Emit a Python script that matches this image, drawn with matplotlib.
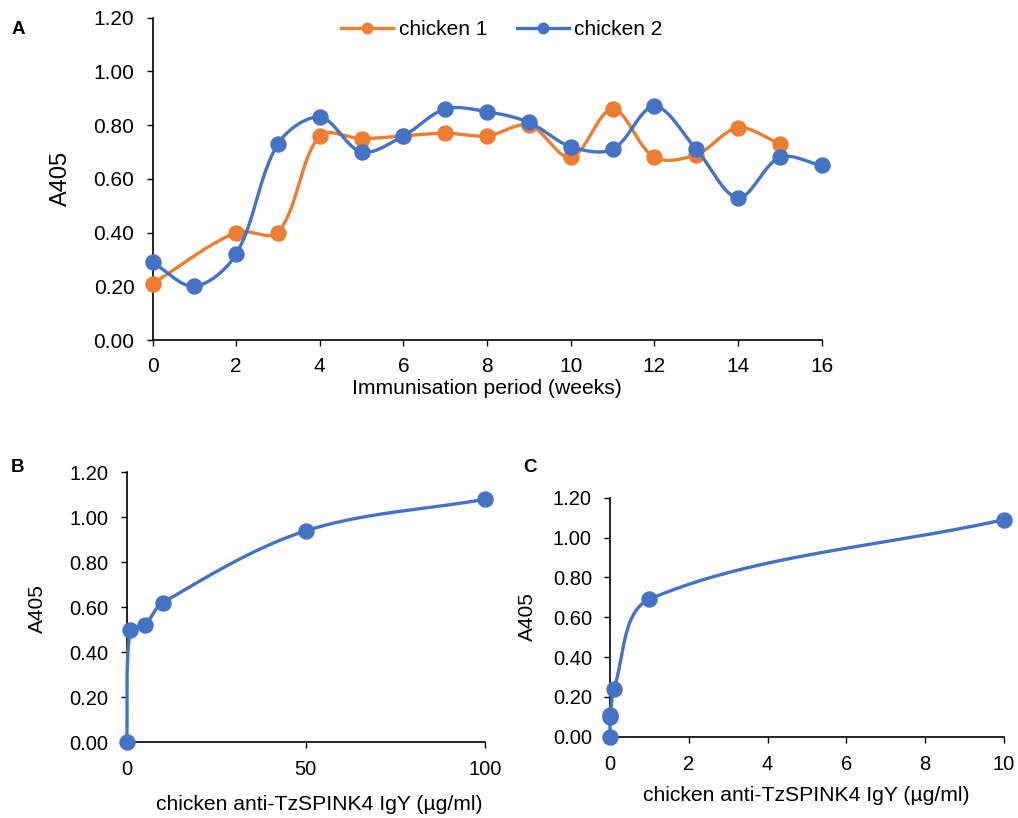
import numpy as np
import matplotlib
matplotlib.use("Agg")
import matplotlib.pyplot as plt
from matplotlib.lines import Line2D

plt.rcParams['font.family'] = ['Liberation Sans', 'DejaVu Sans']

# ---------------- data ----------------
weeks_c1 = [0, 2, 3, 4, 5, 6, 7, 8, 9, 10, 11, 12, 13, 14, 15]
a405_c1 = [0.21, 0.40, 0.40, 0.76, 0.75, 0.76, 0.77, 0.76, 0.80, 0.68, 0.86, 0.68, 0.69, 0.79, 0.73]
weeks_c2 = [0, 1, 2, 3, 4, 5, 6, 7, 8, 9, 10, 11, 12, 13, 14, 15, 16]
a405_c2 = [0.29, 0.20, 0.32, 0.73, 0.83, 0.70, 0.76, 0.86, 0.85, 0.81, 0.72, 0.71, 0.87, 0.71, 0.53, 0.68, 0.65]
series_labels = ["chicken 1", "chicken 2"]

conc_b = [0, 1, 5, 10, 50, 100]
a405_b = [0.00, 0.50, 0.52, 0.62, 0.94, 1.08]

conc_c = [0, 0.001, 0.01, 0.1, 1, 10]
a405_c = [0.00, 0.10, 0.11, 0.24, 0.69, 1.09]

y_ticks = [0.0, 0.2, 0.4, 0.6, 0.8, 1.0, 1.2]
xticks_a = [0, 2, 4, 6, 8, 10, 12, 14, 16]
xticks_b = [0, 50, 100]
xticks_c = [0, 2, 4, 6, 8, 10]

ORANGE = '#ED7D31'
BLUE = '#4472C4'

W, H = 1018, 818
fig = plt.figure(figsize=(W / 100, H / 100), dpi=100)


def ax_at(l, t, r, b):
    return fig.add_axes([l / W, 1 - b / H, (r - l) / W, (b - t) / H])


def smooth(ax, x, y, n=50):
    pts = ax.transData.transform(np.column_stack([x, y]))
    P = np.vstack([pts[0], pts, pts[-1]])
    d = np.linalg.norm(np.diff(P, axis=0), axis=1)  # chord lengths
    out = []
    t = np.linspace(0, 1, n)[:, None]
    for i in range(1, len(P) - 2):
        p0, p1, p2, p3 = P[i - 1], P[i], P[i + 1], P[i + 2]
        dprev, dcur, dnext = d[i - 1], d[i], d[i + 1]
        w1 = dcur / (dprev + dcur) / 3 if dprev + dcur > 0 else 0
        w2 = dcur / (dcur + dnext) / 3 if dcur + dnext > 0 else 0
        c1 = p1 + (p2 - p0) * w1
        c2 = p2 - (p3 - p1) * w2
        seg = (1 - t) ** 3 * p1 + 3 * (1 - t) ** 2 * t * c1 + 3 * (1 - t) * t ** 2 * c2 + t ** 3 * p2
        out.append(seg if i == 1 else seg[1:])
    dd = ax.transData.inverted().transform(np.vstack(out))
    return dd[:, 0], dd[:, 1]


def style(ax, xticks, xlim, fs, xpad=9):
    ax.set_xlim(*xlim)
    ax.set_ylim(0, 1.2)
    ax.set_yticks(y_ticks)
    ax.set_yticklabels([f"{v:.2f}" for v in y_ticks])
    ax.set_xticks(xticks)
    for s in ['top', 'right']:
        ax.spines[s].set_visible(False)
    for s in ['left', 'bottom']:
        ax.spines[s].set_linewidth(1.2)
        ax.spines[s].set_color('black')
    ax.tick_params(axis='both', direction='out', length=4, width=1.0, labelsize=fs, colors='black')
    ax.tick_params(axis='y', pad=9)
    ax.tick_params(axis='x', pad=xpad)
    ax.patch.set_alpha(0)


def plot_series(ax, x, y, color, z):
    sx, sy = smooth(ax, x, y)
    ax.plot(sx, sy, color=color, lw=2.4, zorder=z, solid_capstyle='round', clip_on=False)
    ax.plot(x, y, 'o', color=color, ms=10.8, zorder=z + 0.5, clip_on=False)


# ---------------- panel A ----------------
axA = ax_at(152.5, 17.7, 821.7, 340)
style(axA, xticks_a, (0, 16), 15, xpad=8)
plot_series(axA, weeks_c1, a405_c1, ORANGE, 3)
plot_series(axA, weeks_c2, a405_c2, BLUE, 4)
axA.set_ylabel("A405", fontsize=17)
axA.yaxis.set_label_coords(-0.120, 0.5)
axA.set_xlabel("Immunisation period (weeks)", fontsize=15.2, va='center')
axA.xaxis.set_label_coords(0.5, -0.150)

handles = [Line2D([], [], color=ORANGE, lw=2.4, marker='o', ms=7.5),
           Line2D([], [], color=BLUE, lw=2.4, marker='o', ms=7.5)]
fig.legend(handles, series_labels, loc='center', ncol=2, frameon=False,
           bbox_to_anchor=(502 / W, 1 - 29.5 / H), fontsize=15,
           handlelength=2.5, handletextpad=0.25, columnspacing=1.45)

# ---------------- panel B ----------------
axB = ax_at(126.7, 472.3, 485, 742.3)
style(axB, xticks_b, (0, 100), 14.5)
plot_series(axB, conc_b, a405_b, BLUE, 4)
axB.set_ylabel("A405", fontsize=15)
axB.yaxis.set_label_coords(-0.223, 0.494)
axB.set_xlabel("chicken anti-TzSPINK4 IgY (µg/ml)", fontsize=15.2, va='center')
axB.xaxis.set_label_coords(0.537, -0.232)

# ---------------- panel C ----------------
axC = ax_at(610, 497.7, 1004, 736.7)
style(axC, xticks_c, (0, 10), 14.5)
plot_series(axC, conc_c, a405_c, BLUE, 4)
axC.set_ylabel("A405", fontsize=15)
axC.yaxis.set_label_coords(-0.186, 0.502)
axC.set_xlabel("chicken anti-TzSPINK4 IgY (µg/ml)", fontsize=15.2, va='center')
axC.xaxis.set_label_coords(0.499, -0.244)

# panel letters
for lab, (px, py) in {"A": (18, 30), "B": (18, 467), "C": (530, 467)}.items():
    fig.text(px / W, 1 - py / H, lab, fontsize=13.5, fontweight='bold', ha='center', va='center')

fig.savefig("out.png", dpi=100)
